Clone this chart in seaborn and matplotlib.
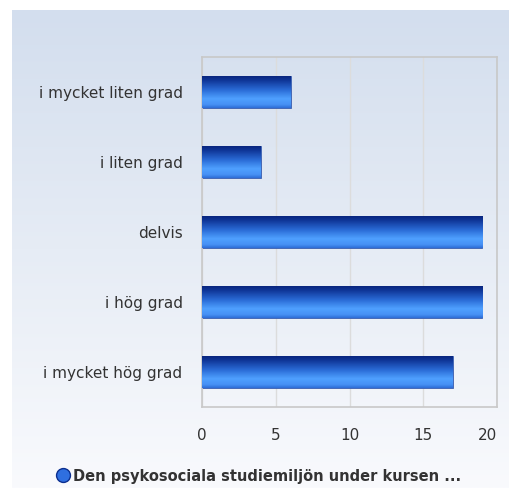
import numpy as np
import matplotlib
matplotlib.use("Agg")
import matplotlib.pyplot as plt
from matplotlib.colors import LinearSegmentedColormap
from matplotlib.lines import Line2D
import seaborn as sns

# data
categories = ['i mycket liten grad', 'i liten grad', 'delvis', 'i hög grad', 'i mycket hög grad']
counts = [6, 4, 19, 19, 17]
series_name = 'Den psykosociala studiemiljön under kursen ...'
x_ticks = [0, 5, 10, 15, 20]

sns.set_theme(style='white')
plt.rcParams['font.family'] = ['DejaVu Sans']

W, H = 509, 488
fig = plt.figure(figsize=(W / 100, H / 100), dpi=100)
fig.patch.set_facecolor('white')

# gradient panel behind everything
bg = fig.add_axes([12 / W, 0, 1 - 12 / W, 1 - 10 / H], zorder=0)
bg_cmap = LinearSegmentedColormap.from_list('bg', ['#d3deee', '#e6ecf5', '#f9fafd'])
bg.imshow(np.linspace(0, 1, 256).reshape(-1, 1), cmap=bg_cmap, aspect='auto',
          extent=(0, 1, 0, 1), origin='upper')
bg.set_axis_off()

ax = fig.add_axes([202 / W, 1 - 407 / H, 295 / W, 350 / H], zorder=1)
ax.set_facecolor('none')

sns.barplot(x=counts, y=categories, orient='h', color='#2b63d6', width=0.47,
            ax=ax, zorder=2)

bar_cmap = LinearSegmentedColormap.from_list(
    'bar', [(0, '#072279'), (0.15, '#0f3597'), (0.45, '#2a6bd6'),
            (0.72, '#4fa0ff'), (0.9, '#4791f5'), (1, '#2f6fd8')])
grad = np.linspace(0, 1, 64).reshape(-1, 1)
for p in ax.patches:
    x0, y0 = p.get_x(), p.get_y()
    w, h = p.get_width(), p.get_height()
    im = ax.imshow(grad, cmap=bar_cmap, aspect='auto', origin='upper',
                   extent=(x0, x0 + w, y0 + h, y0), zorder=3)
    im.set_clip_path(p)
    p.set_edgecolor('#3a5fb0')
    p.set_linewidth(0.6)

ax.set_xlim(0, 20)
ax.set_ylim(4.5, -0.5)
ax.set_xticks(x_ticks)
ax.xaxis.grid(True, color='#dcdcdc', linewidth=1)
ax.set_axisbelow(True)
for s in ax.spines.values():
    s.set_color('#c8c8c8')
    s.set_linewidth(1.2)
ax.tick_params(axis='both', length=0, labelsize=11, colors='#333333')
ax.tick_params(axis='x', pad=15)
ax.tick_params(axis='y', pad=14)
ax.get_xticklabels()[-1].set_horizontalalignment('right')
ax.set_xlabel('')
ax.set_ylabel('')

handle = Line2D([], [], marker='o', linestyle='none', markersize=10,
                markerfacecolor='#2f6fe0', markeredgecolor='#0c2f8f',
                markeredgewidth=1.0)
fig.legend([handle], [series_name], loc='center',
           bbox_to_anchor=(0.5 + 4 / W, 1 - 476 / H),
           frameon=False, handletextpad=0.15, handlelength=1.0,
           prop={'weight': 'bold', 'size': 10.5})
for t in fig.legends[0].get_texts():
    t.set_color('#333333')

fig.savefig('out.png', dpi=100)
